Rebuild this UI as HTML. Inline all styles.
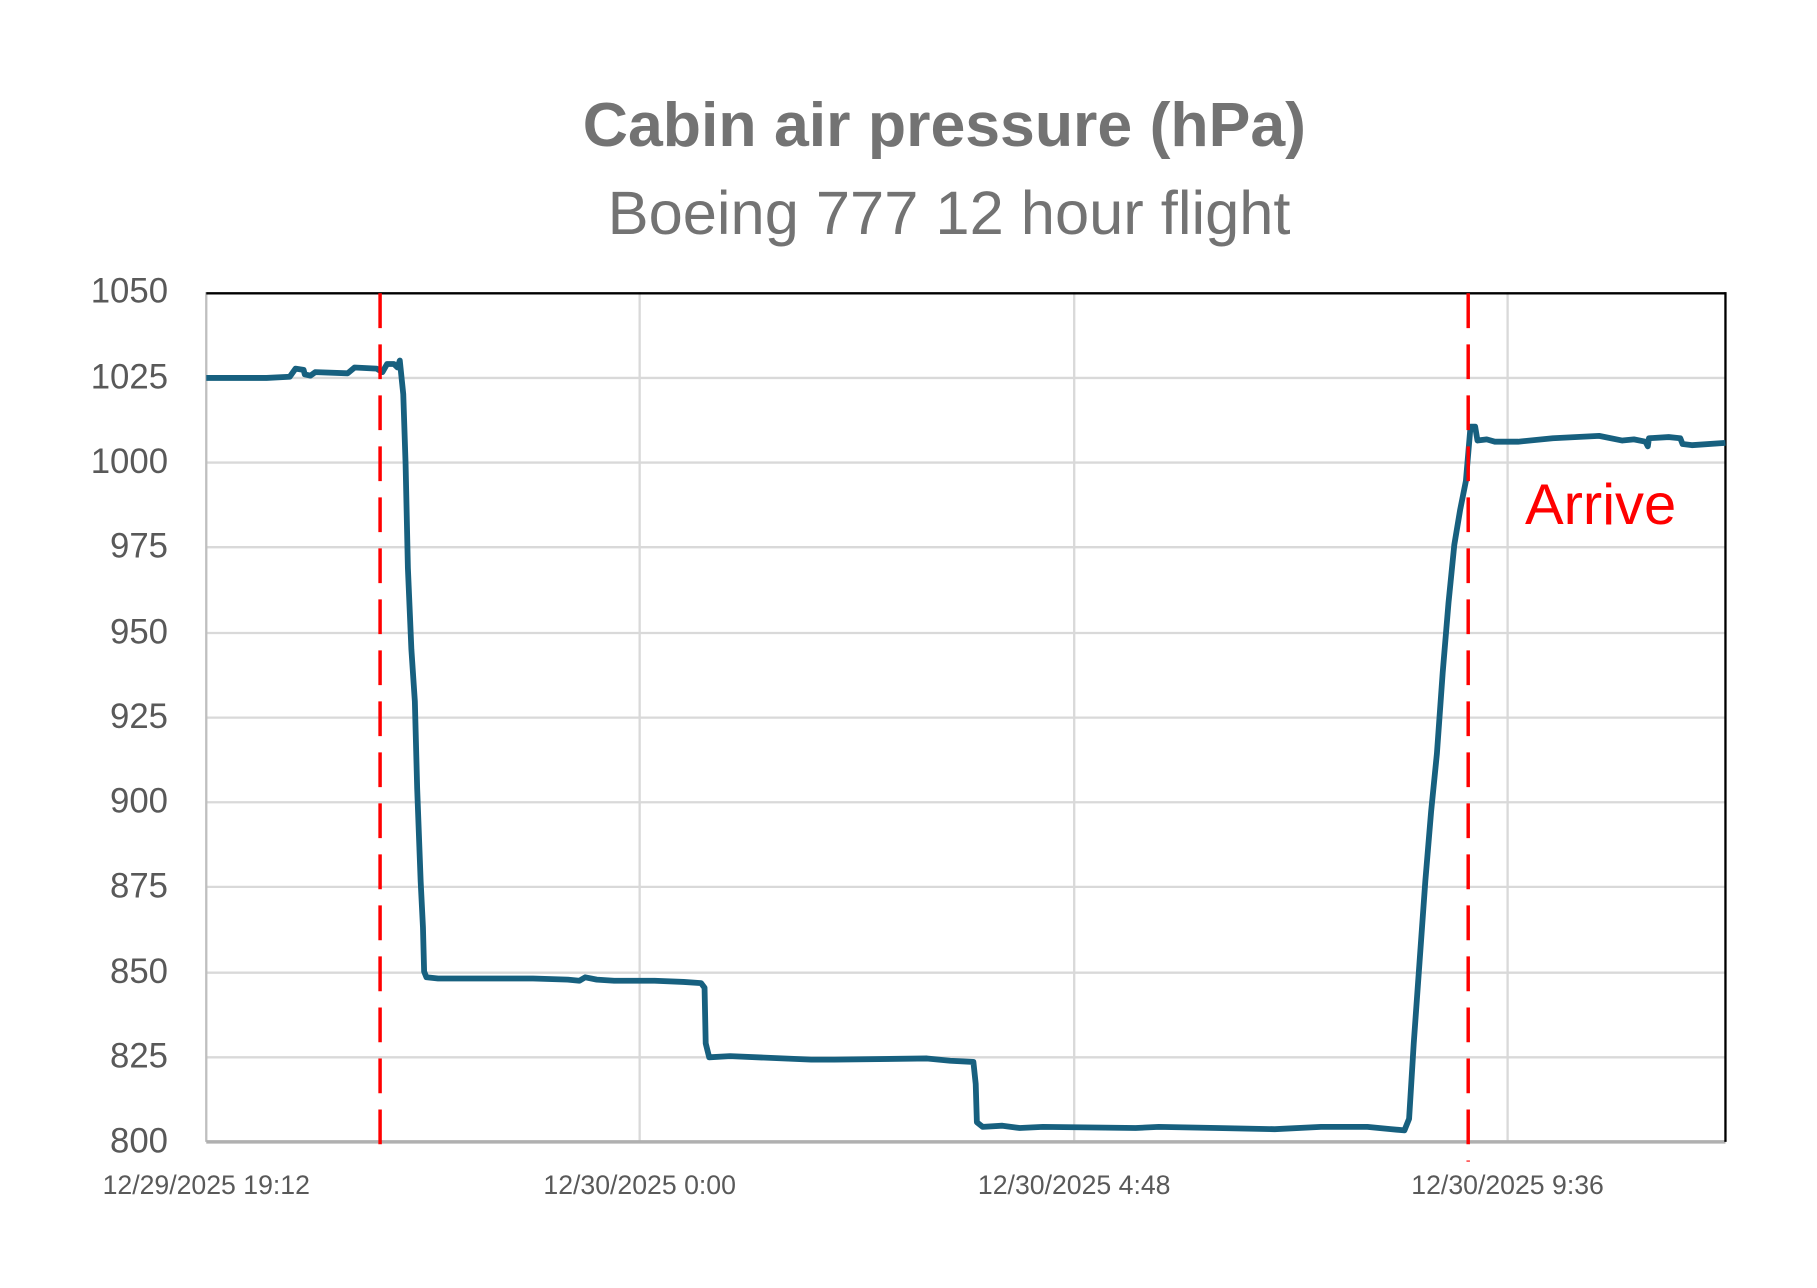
<!DOCTYPE html>
<html><head><meta charset="utf-8"><style>
html,body{margin:0;padding:0;background:#fff;width:1817px;height:1288px;overflow:hidden}
svg{display:block}
text{font-family:"Liberation Sans",sans-serif}
</style></head><body>
<svg width="1817" height="1288" viewBox="0 0 1568 1111" preserveAspectRatio="none">
<rect width="1568" height="1111" fill="#fff"/>
<text x="815" y="126" text-anchor="middle" font-size="54" font-weight="bold" fill="#737373">Cabin air pressure (hPa)</text>
<text x="819" y="202" text-anchor="middle" font-size="53" fill="#737373">Boeing 777  12 hour flight</text>
<g stroke="#d9d9d9" stroke-width="2">
<line x1="178" x2="1489" y1="326" y2="326"/><line x1="178" x2="1489" y1="399" y2="399"/>
<line x1="178" x2="1489" y1="472" y2="472"/><line x1="178" x2="1489" y1="546" y2="546"/>
<line x1="178" x2="1489" y1="619" y2="619"/><line x1="178" x2="1489" y1="692" y2="692"/>
<line x1="178" x2="1489" y1="765" y2="765"/><line x1="178" x2="1489" y1="839" y2="839"/>
<line x1="178" x2="1489" y1="912" y2="912"/>
<line x1="552" x2="552" y1="252" y2="985"/><line x1="927" x2="927" y1="252" y2="985"/><line x1="1301" x2="1301" y1="252" y2="985"/>
</g>
<line x1="178" x2="178" y1="252" y2="985" stroke="#bfbfbf" stroke-width="2"/>
<line x1="178" x2="1489" y1="985" y2="985" stroke="#b0b0b0" stroke-width="3"/>
<line x1="178" x2="1489" y1="253" y2="253" stroke="#000" stroke-width="2"/>
<line x1="1489" x2="1489" y1="252" y2="985" stroke="#000" stroke-width="2"/>
<polyline fill="none" stroke="#17607f" stroke-width="5" stroke-linejoin="round" points="178,326 230,326 250,325 255,318 262,319 263,323 268,324 272,321 300,322 306,317 325,318 330,321 334,314 340,314 343,317 345,311 348,340 350,400 352,490 355,560 358,605 360,680 363,760 365,800 366,838 368,843 378,844 460,844 490,845 500,846 505,843 515,845 530,846 565,846 590,847 605,848 608,852 609,900 612,912 630,911 700,914 720,914 800,913 820,915 840,916 842,935 843,968 848,972 865,971 880,973 900,972 980,973 1000,972 1050,973 1100,974 1140,972 1180,972 1200,974 1212,975 1216,965 1220,900 1225,830 1230,760 1235,700 1240,650 1245,580 1250,520 1255,470 1260,440 1265,415 1269,368 1273,368 1275,380 1283,379 1290,381 1310,381 1340,378 1380,376 1400,380 1410,379 1420,381 1422,385 1423,378 1440,377 1450,378 1452,383 1460,384 1489,382"/>
<g stroke="#ff0000" stroke-width="3" stroke-dasharray="30,14">
<line x1="328" x2="328" y1="253" y2="990"/><line x1="1267" x2="1267" y1="253" y2="1002"/>
</g>
<text x="1316" y="452" font-size="50" fill="#ff0000">Arrive</text>
<g font-size="30" fill="#595959" text-anchor="end">
<text x="145" y="261">1050</text><text x="145" y="335">1025</text><text x="145" y="408">1000</text>
<text x="145" y="481">975</text><text x="145" y="555">950</text><text x="145" y="628">925</text>
<text x="145" y="701">900</text><text x="145" y="774">875</text><text x="145" y="848">850</text>
<text x="145" y="921">825</text><text x="145" y="994">800</text>
</g>
<g font-size="23" fill="#595959" text-anchor="middle">
<text x="178" y="1030">12/29/2025 19:12</text><text x="552" y="1030">12/30/2025 0:00</text>
<text x="927" y="1030">12/30/2025 4:48</text><text x="1301" y="1030">12/30/2025 9:36</text>
</g>
</svg>
</body></html>
